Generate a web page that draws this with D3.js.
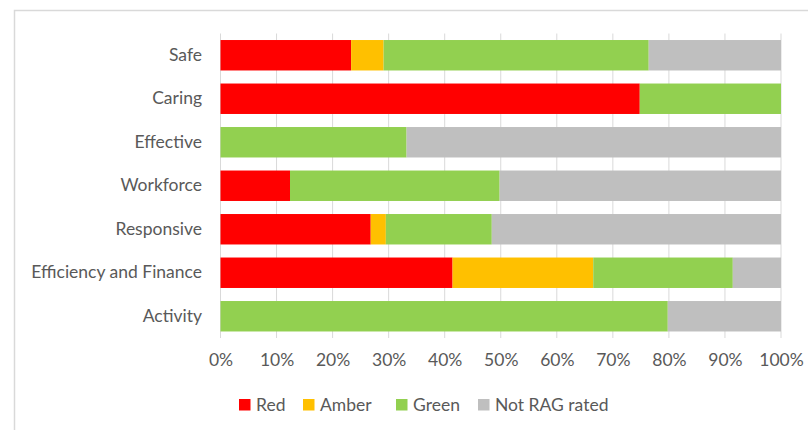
<!DOCTYPE html>
<html>
<head>
<meta charset="utf-8">
<script src="https://cdn.jsdelivr.net/npm/d3@7/dist/d3.min.js"></script>
<style>
  html, body { margin: 0; padding: 0; background: #fff; }
  svg { display: block; }
  text { font-family: Lato, "Liberation Sans", sans-serif; fill: #595959; }
</style>
</head>
<body>
<svg id="chart" width="808" height="430"></svg>
<script>
// Domains assessed
const categories = ["Safe", "Caring", "Effective", "Workforce", "Responsive", "Efficiency and Finance", "Activity"];

// Share of indicators (%) by RAG rating, one array per rating
const redValues   = [23.3, 74.8, 0,    12.4, 26.8, 41.4, 0];
const amberValues = [5.8,  0,    0,    0,    2.7,  25.1, 0];
const greenValues = [47.3, 25.2, 33.2, 37.4, 18.9, 24.9, 79.8];
const notRagValues= [23.6, 0,    66.8, 50.2, 51.6, 8.6,  20.2];

const seriesNames  = ["Red", "Amber", "Green", "Not RAG rated"];
const seriesColors = ["#FF0000", "#FFC000", "#92D050", "#BFBFBF"];
const tickValues   = [0, 10, 20, 30, 40, 50, 60, 70, 80, 90, 100];

const rows = categories.map((c, i) => ({
  category: c,
  "Red": redValues[i],
  "Amber": amberValues[i],
  "Green": greenValues[i],
  "Not RAG rated": notRagValues[i]
}));

const fontSize = 17.5;
const svg = d3.select("#chart");

// chart frame
svg.append("rect")
  .attr("x", 14.5).attr("y", 10.5)
  .attr("width", 820).attr("height", 440)
  .attr("fill", "none").attr("stroke", "#D9D9D9").attr("stroke-width", 1.5);

const plot = { left: 220.5, right: 781, top: 33.5, bottom: 338 };

const x = d3.scaleLinear().domain([0, 100]).range([plot.left, plot.right]);
const y = d3.scaleBand().domain(categories).range([plot.top, plot.bottom]).paddingInner(0.3).paddingOuter(0.15);

// vertical gridlines
svg.append("g")
  .selectAll("line")
  .data(tickValues)
  .join("line")
  .attr("x1", d => x(d)).attr("x2", d => x(d))
  .attr("y1", plot.top).attr("y2", plot.bottom)
  .attr("stroke", "#D9D9D9").attr("stroke-width", 1);

// stacked bars
const stack = d3.stack().keys(seriesNames);
const layers = stack(rows);
const color = d3.scaleOrdinal().domain(seriesNames).range(seriesColors);

svg.append("g")
  .selectAll("g")
  .data(layers)
  .join("g")
  .attr("fill", d => color(d.key))
  .selectAll("rect")
  .data(d => d)
  .join("rect")
  .attr("x", d => x(d[0]))
  .attr("y", d => y(d.data.category))
  .attr("width", d => x(d[1]) - x(d[0]))
  .attr("height", y.bandwidth());

// x axis labels
const xAxis = d3.axisBottom(x).tickValues(tickValues).tickFormat(d => d + "%").tickSize(0).tickPadding(0);
const xg = svg.append("g").attr("transform", `translate(0, ${plot.bottom + 16})`).call(xAxis);
xg.select(".domain").remove();
xg.selectAll("text").attr("font-size", fontSize).attr("font-family", "Lato, sans-serif").attr("fill", "#595959");

// y axis labels
const yAxis = d3.axisLeft(y).tickSize(0).tickPadding(0);
const yg = svg.append("g").attr("transform", `translate(202, 0)`).call(yAxis);
yg.select(".domain").remove();
yg.selectAll("text").attr("font-size", fontSize).attr("font-family", "Lato, sans-serif").attr("fill", "#595959");

// legend
const legendX = [239, 303, 396, 478];
const legend = svg.append("g");
seriesNames.forEach((name, i) => {
  const g = legend.append("g").attr("transform", `translate(${legendX[i]}, 399)`);
  g.append("rect").attr("width", 11.5).attr("height", 11.5).attr("fill", seriesColors[i]);
  g.append("text").attr("x", 17).attr("y", 6).attr("dy", "0.35em")
    .attr("font-size", fontSize).text(name);
});
</script>
</body>
</html>
